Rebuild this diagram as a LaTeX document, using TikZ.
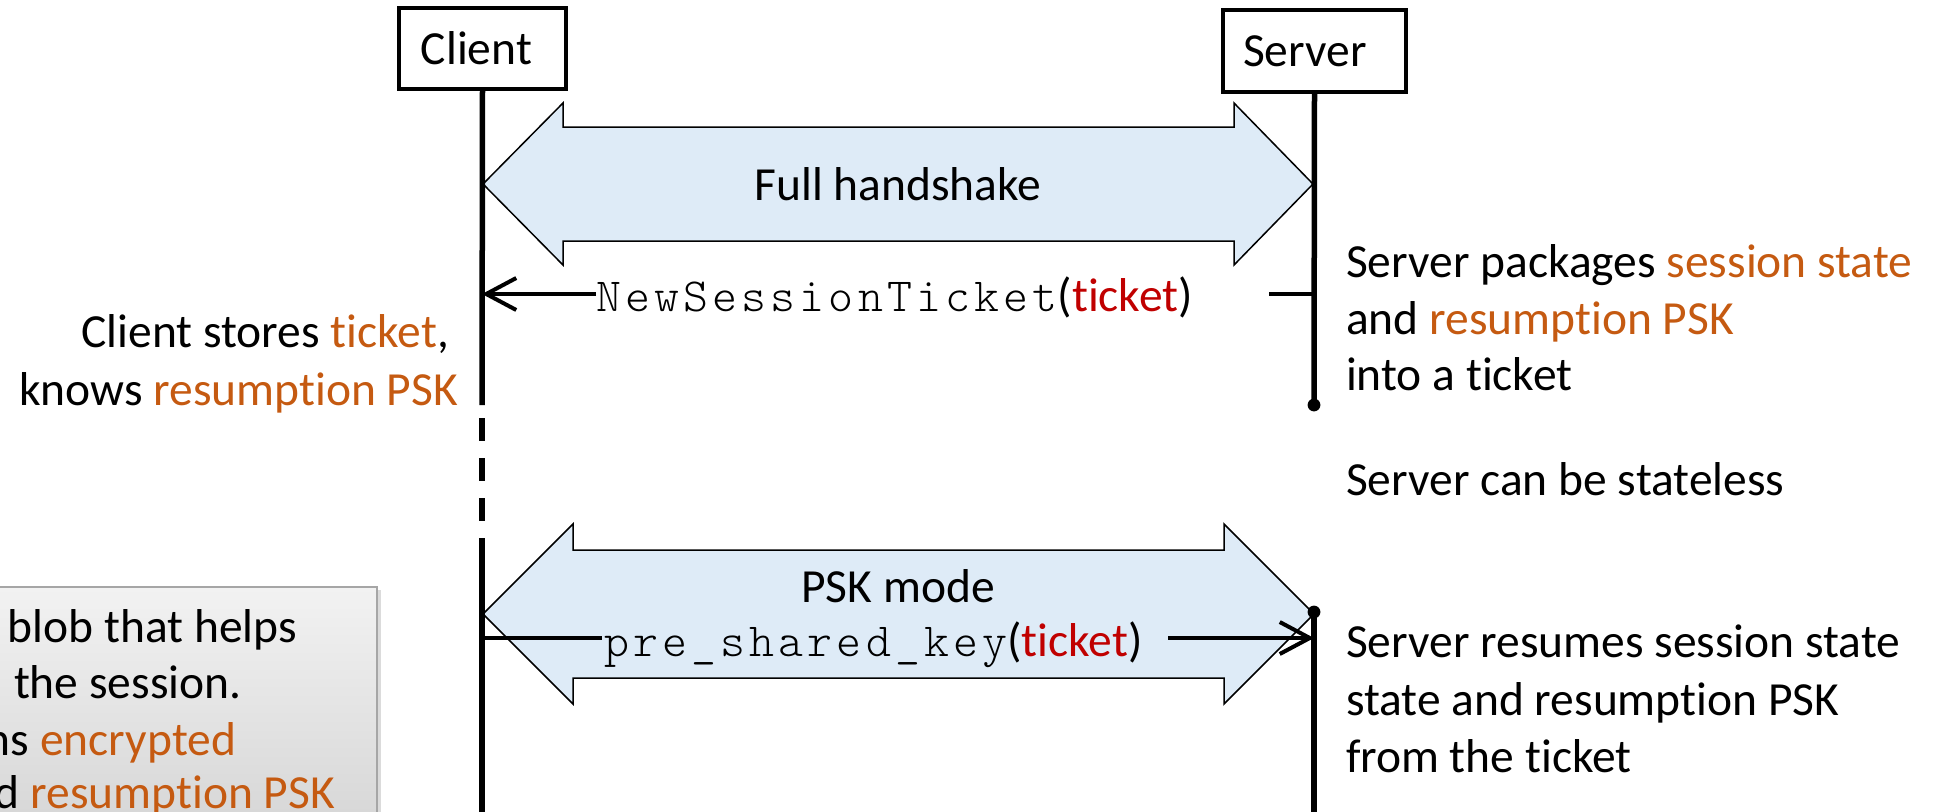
\documentclass[tikz,border=0pt]{standalone}
\usepackage{fontspec}
\setmainfont{Carlito}[Ligatures={NoCommon}]
\newfontfamily\cour{lmmonolt10-regular.otf}[LetterSpace=8.8]
\usetikzlibrary{arrows.meta}
\definecolor{orn}{HTML}{C55A11}
\definecolor{tred}{HTML}{C00000}
\definecolor{lblue}{HTML}{DEEBF7}
\definecolor{boxtop}{HTML}{F2F2F2}
\definecolor{boxbot}{HTML}{D6D6D6}
\definecolor{boxline}{HTML}{A6A6A6}
\tikzset{
  lbl/.style={font=\fontsize{23.75}{28.5}\selectfont, inner sep=0pt, outer sep=0pt},
  actor/.style={draw, line width=2.4pt, lbl, inner sep=0pt},
  lifeline/.style={line width=2.75pt},
  msg/.style={line width=2pt},
  msgtip/.style={-{Straight Barb[length=15pt,width=16pt]}},
  bigarrow/.style={fill=lblue, draw=black, line width=0.75pt, line join=miter},
  dotmark/.style={fill=black}
}
\begin{document}
\begin{tikzpicture}[x=0.5pt,y=-0.5pt]
\clip (0,0) rectangle (1944,811);

% note box (cut off at the left and bottom)
\fill[black!14] (-10,590) rectangle (381,830);
\shade[top color=boxtop,bottom color=boxbot] (-10,587) rectangle (377,830);
\draw[boxline, line width=1pt] (-10,587) rectangle (377,830);
\node[lbl, anchor=base west] (n1) at (8,642) {blob that helps};
\node[lbl, anchor=base west] (n2) at (14,698) {the session.};
\node[lbl, anchor=base west] (n3) at (-14,755) {ns \textcolor{orn}{encrypted}};
\node[lbl, anchor=base west] (n4) at (-5,808) {d \textcolor{orn}{resumption PSK}};

% actors
\node[actor, minimum width=83.5pt, minimum height=40.5pt] (client) at (482.5,48.5) {Client\kern6pt};
\node[actor, minimum width=91.5pt, minimum height=41pt] (server) at (1314.5,51) {Server\kern9.5pt};

% lifeline coordinates
\coordinate (cA) at (482,405);
\coordinate (cB) at (482,538);
\coordinate (cEnd) at (482,830);
\coordinate (sA) at (1314,405);
\coordinate (sB) at (1314,612);
\coordinate (sEnd) at (1314,830);

% full handshake arrow
\draw[bigarrow] (483,184) -- (563,103) -- (563,127) -- (1234,127) -- (1234,103) -- (1313,184)
  -- (1234,265) -- (1234,241) -- (563,241) -- (563,265) -- cycle;
\node[lbl, anchor=base] (fh) at (898,200) {Full handshake};

% PSK mode arrow
\draw[bigarrow] (483,614) -- (573,524) -- (573,550) -- (1224,550) -- (1224,524) -- (1314,614)
  -- (1224,704) -- (1224,678) -- (573,678) -- (573,704) -- cycle;
\node[lbl, anchor=base] (psk) at (898,602) {PSK mode};

% lifelines
\draw[lifeline] (client.south) -- (cA);
\foreach \ya/\yb in {418/441, 458/481, 498/521}
  \draw[lifeline] (482,\ya) -- (482,\yb);
\draw[lifeline] (cB) -- (cEnd);
\draw[lifeline] (server.south) -- (sA);
\fill[dotmark] (sA) circle (3.2pt);
\draw[lifeline] (sB) -- (sEnd);
\fill[dotmark] (sB) circle (3.2pt);

% NewSessionTicket message
\node[lbl, anchor=base west] (nst) at (596,311) {{\cour NewSessionTicket}(\textcolor{tred}{ticket})};
\coordinate (cNST) at (482,294);
\coordinate (sNST) at (1314,294);
\coordinate (nstR) at (1269,294);
\draw[msg] (sNST) -- (nstR);
\draw[msg, msgtip] (nst.west |- cNST) -- (cNST);

% pre_shared_key message
\node[lbl, anchor=base west] (psk2) at (604,656) {{\cour pre\_shared\_key}(\textcolor{tred}{ticket})};
\coordinate (cPSK) at (482,638);
\coordinate (sPSK) at (1314,638);
\coordinate (pskL) at (602,638);
\coordinate (pskR) at (1168,638);
\draw[msg] (cPSK) -- (pskL);
\draw[msg, msgtip] (pskR) -- (sPSK);

% client notes
\node[lbl, anchor=base east] (cn1) at (449,347) {Client stores \textcolor{orn}{ticket},};
\node[lbl, anchor=base east] (cn2) at (458,405) {knows \textcolor{orn}{resumption PSK}};

% server notes
\node[lbl, anchor=base west] (sn1) at (1346,277) {Server packages \textcolor{orn}{session state}};
\node[lbl, anchor=base west] (sn2) at (1346,334) {and \textcolor{orn}{resumption PSK}};
\node[lbl, anchor=base west] (sn3) at (1346,390) {into a ticket};
\node[lbl, anchor=base west] (sn4) at (1346,495) {Server can be stateless};
\node[lbl, anchor=base west] (sn5) at (1346,657) {Server resumes session state};
\node[lbl, anchor=base west] (sn6) at (1346,715) {state and resumption PSK};
\node[lbl, anchor=base west] (sn7) at (1346,772) {from the ticket};
\end{tikzpicture}
\end{document}
